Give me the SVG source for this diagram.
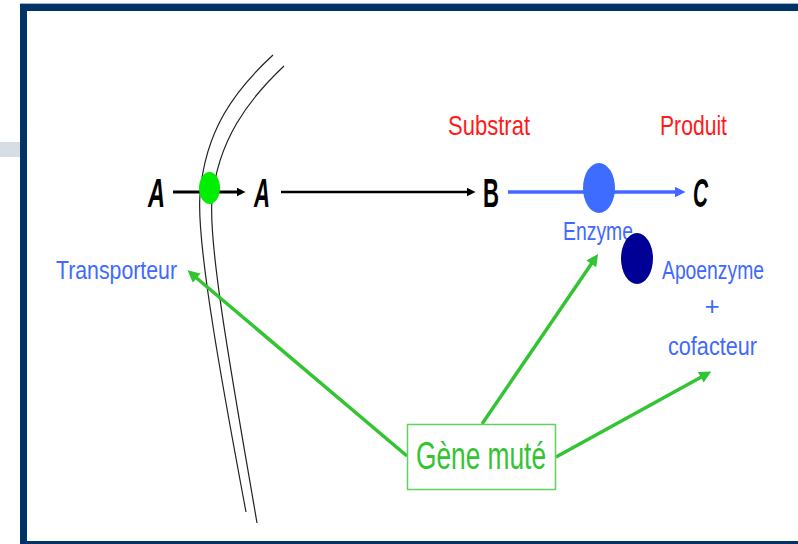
<svg xmlns="http://www.w3.org/2000/svg" width="798" height="544" viewBox="0 0 798 544">
<style>
.t{font-family:"Liberation Sans","DejaVu Sans",sans-serif;}
.blk{fill:#000;font-size:40px;font-weight:bold;}
.red{fill:#ff1a1a;font-size:28px;}
.blu{fill:#4169ff;font-size:26px;}
.grn{fill:#33c433;font-size:38px;}
.mem{fill:none;stroke:#222;stroke-width:1.2;}
.ga{stroke:#33c433;stroke-width:3.5;fill:none;marker-end:url(#mg);}
</style>
<defs>
<marker id="mk" viewBox="0 0 10 10" refX="5" refY="5" markerWidth="9" markerHeight="9" markerUnits="userSpaceOnUse" orient="auto"><path d="M0,0 L10,5 L0,10 z" fill="#000"/></marker>
<marker id="mb" viewBox="0 0 10 10" refX="5" refY="5" markerWidth="11" markerHeight="11" markerUnits="userSpaceOnUse" orient="auto"><path d="M0,0 L10,5 L0,10 z" fill="#4169ff"/></marker>
<marker id="mg" viewBox="0 0 10 10" refX="4" refY="5" markerWidth="14" markerHeight="12" markerUnits="userSpaceOnUse" orient="auto"><path d="M0,0 L10,5 L0,10 z" fill="#33c433"/></marker>
</defs>
<rect width="798" height="544" fill="#fff"/>
<g id="frame">
<rect x="0" y="142" width="20" height="15" fill="#d6dde5"/>
<rect x="20" y="3" width="778" height="1.5" fill="#9fb2c8"/>
<rect x="20" y="4" width="778" height="7" fill="#003466"/>
<rect x="20" y="4" width="7" height="540" fill="#003466"/>
<rect x="20" y="541" width="778" height="3" fill="#003466"/>
</g>
<g id="membrane">
<path class="mem" d="M273,55 C235,90 205,130 200,195 C196,245 225,400 246,512"/>
<path class="mem" d="M284,66 C248,100 218,140 212,200 C208,250 237,405 257,523"/>
</g>
<g id="connectors">
<line x1="173" y1="192" x2="241" y2="192" stroke="#000" stroke-width="3" marker-end="url(#mk)"/>
<line x1="281" y1="192" x2="471" y2="192" stroke="#000" stroke-width="2.5" marker-end="url(#mk)"/>
<line x1="508" y1="192" x2="680" y2="192" stroke="#4169ff" stroke-width="3.5" marker-end="url(#mb)"/>
<line class="ga" x1="407" y1="456" x2="193" y2="275"/>
<line class="ga" x1="482" y1="424" x2="594" y2="260"/>
<line class="ga" x1="556" y1="457" x2="705" y2="375"/>
</g>
<g id="transporteur">
<ellipse cx="209.5" cy="188" rx="10.5" ry="16" fill="#00ee00"/>
<text class="t blu" x="56" y="279" textLength="121" lengthAdjust="spacingAndGlyphs" font-size="28">Transporteur</text>
</g>
<g id="A1"><text class="t blk" x="148" y="207" textLength="17" lengthAdjust="spacingAndGlyphs" font-style="italic">A</text></g>
<g id="A2"><text class="t blk" x="254" y="207" textLength="16" lengthAdjust="spacingAndGlyphs" font-style="italic">A</text></g>
<g id="B"><text class="t blk" x="483" y="207" textLength="16" lengthAdjust="spacingAndGlyphs">B</text></g>
<g id="C"><text class="t blk" x="693" y="207" textLength="15" lengthAdjust="spacingAndGlyphs" font-style="italic">C</text></g>
<g id="substrat"><text class="t red" x="448" y="135" textLength="82" lengthAdjust="spacingAndGlyphs">Substrat</text></g>
<g id="produit"><text class="t red" x="660" y="135" textLength="67" lengthAdjust="spacingAndGlyphs">Produit</text></g>
<g id="enzyme">
<ellipse cx="599" cy="188" rx="16" ry="25" fill="#3d6cff"/>
<text class="t blu" x="563" y="240" textLength="70" lengthAdjust="spacingAndGlyphs" font-size="27">Enzyme</text>
</g>
<g id="apoenzyme">
<ellipse cx="637" cy="258.5" rx="16" ry="25.5" fill="#000096"/>
<text class="t blu" x="662" y="279" textLength="102" lengthAdjust="spacingAndGlyphs" font-size="24">Apoenzyme</text>
<text class="t blu" x="712" y="315" text-anchor="middle" font-size="22">+</text>
<text class="t blu" x="668" y="355" textLength="89" lengthAdjust="spacingAndGlyphs">cofacteur</text>
</g>
<g id="gene">
<rect x="407.5" y="424.5" width="148" height="65" fill="#fff" stroke="#5fd35f" stroke-width="1.5"/>
<text class="t grn" x="416" y="469" textLength="130" lengthAdjust="spacingAndGlyphs">Gène muté</text>
</g>
</svg>
